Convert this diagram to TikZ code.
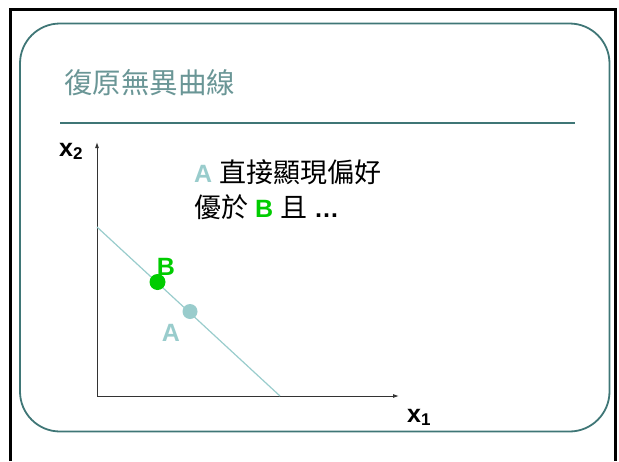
\documentclass[tikz,border=0pt]{standalone}
\usepackage{fontspec}
\setmainfont{Liberation Sans}
\newfontfamily\cjk{Noto Sans CJK TC}
\usetikzlibrary{arrows.meta}
\definecolor{frameteal}{HTML}{3F7676}
\definecolor{titleteal}{HTML}{6A9696}
\definecolor{lightteal}{HTML}{99CCCC}
\definecolor{bgreen}{HTML}{00CC00}
\definecolor{axisgray}{HTML}{333333}
\newcommand{\bigcjk}[1]{{\cjk\fontsize{27}{30}\selectfont #1}}
\tikzset{
  dot/.style={circle, inner sep=0pt, minimum size=#1},
  lbl/.style={inner sep=0pt, font=\fontsize{25}{30}\selectfont\bfseries},
  body/.style={inner sep=0pt, anchor=west, font=\fontsize{25}{30}\selectfont},
  axis/.style={draw=axisgray, line width=0.9pt, -{Latex[length=6pt,width=4pt]}},
}
\begin{document}
\begin{tikzpicture}[x=1pt,y=-1pt]
\useasboundingbox (0,0) rectangle (619,461);
% outer black frame
\draw[line width=3pt] (10,461) -- (10,9.5) -- (615,9.5) -- (615,461);
% rounded slide frame
\draw[frameteal, line width=1.8pt, rounded corners=40pt] (20,23.5) rectangle (609.5,431.5);
% title
\node[inner sep=0pt, anchor=west, text=titleteal, font=\cjk\fontsize{28.5}{30}\selectfont] (title) at (64,83) {復原無異曲線};
\coordinate (sepL) at (60,123);
\coordinate (sepR) at (575,123);
\draw[frameteal, line width=2.6pt] (sepL) -- (sepR);
% axes
\coordinate (O) at (97,396);
\coordinate (ytop) at (97,142);
\coordinate (xend) at (399,396);
\draw[axis] (O) -- (ytop);
\draw[axis] (O) -- (xend);
\node[lbl, anchor=base west] (x2) at (59,156) {x\raisebox{-0.3ex}{\fontsize{17}{17}\selectfont 2}};
\node[lbl, anchor=base west] (x1) at (407,422) {x\raisebox{-0.3ex}{\fontsize{17}{17}\selectfont 1}};
% budget line
\coordinate (bl1) at (97,227);
\coordinate (bl2) at (280,396);
\draw[lightteal, line width=1.2pt] (bl1) -- (bl2);
% points
\node[dot=16pt, fill=bgreen] (B) at (157.5,282) {};
\node[dot=15pt, fill=lightteal] (A) at (190,311.5) {};
\node[lbl, text=bgreen] (Blbl) at (166,267) {B};
\node[lbl, text=lightteal] (Albl) at (171,333) {A};
% text
\node[body] (line1) at (194,172) {\textbf{\color{lightteal}A} \bigcjk{直接顯現偏好}};
\node[body] (line2) at (194,207) {\bigcjk{優於} \textbf{\color{bgreen}B} \bigcjk{且} \textbf{…}};
\end{tikzpicture}
\end{document}
